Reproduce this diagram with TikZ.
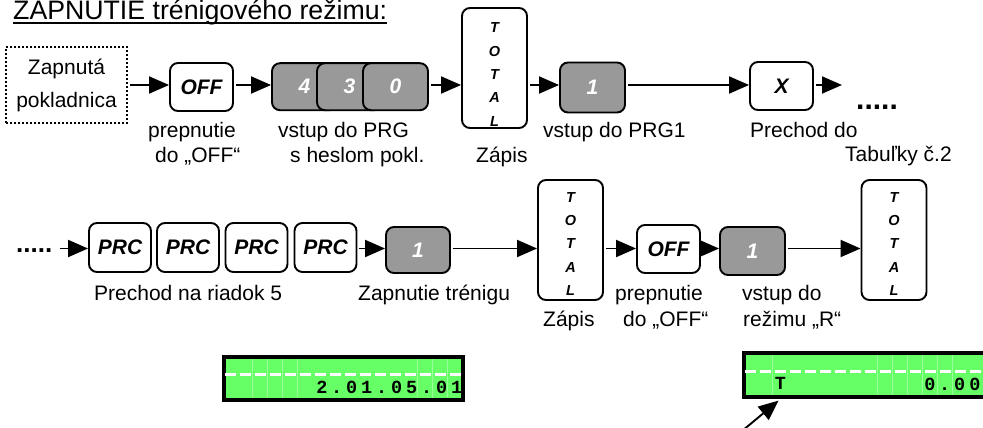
\documentclass[tikz,border=0pt]{standalone}
\usepackage{fontspec}
\setmainfont{Liberation Sans}
\newfontfamily\lcdfont{Liberation Mono}
\usetikzlibrary{arrows.meta}
\definecolor{keygray}{HTML}{999999}
\definecolor{lcdgreen}{HTML}{66FF66}
\makeatletter
\newcommand\lcdtext[1]{\@tfor\lcdch:=#1\do{\makebox[15pt]{\lcdch}}}
\makeatother
\begin{document}
\begin{tikzpicture}[x=1pt,y=-1pt,
  keybox/.style={draw, line width=1.9pt, rounded corners=8pt, fill=white, inner sep=0pt,
    font=\fontsize{21}{24}\selectfont\bfseries\itshape},
  graykey/.style={keybox, fill=keygray, text=white},
  totbox/.style={keybox, minimum width=65pt, minimum height=120pt},
  tottext/.style={inner sep=0pt, align=center, font=\fontsize{14.5}{23.4}\selectfont\bfseries\itshape},
  lab/.style={anchor=base west, inner sep=0pt, font=\fontsize{21}{25}\selectfont},
  conn/.style={line width=1.9pt, -{Triangle[length=20pt,width=17pt]}, shorten <=2pt},
  lcdbox/.style={draw, line width=4pt, fill=lcdgreen, inner sep=0pt},
  lcddash/.style={white, line width=3pt, dash pattern=on 11pt off 4pt},
  lcdgrid/.style={draw=white, opacity=0.35, line width=0.6pt},
  lcdchar/.style={anchor=base, inner sep=0pt, font=\lcdfont\fontsize{18.5}{20}\selectfont\bfseries},
  ellip/.style={inner sep=0pt, anchor=base west}
]
\useasboundingbox (0,0) rectangle (983,428);

% title
\node[anchor=base west, inner sep=0pt, font=\fontsize{26.7}{30}\selectfont] (title) at (13,20) {ZAPNUTIE trénigového režimu:};
\draw[line width=1.8pt] ([yshift=-3.3pt]title.base west) -- ([yshift=-3.3pt]title.base east);

% row helpers
\coordinate (r1) at (0,85);
\coordinate (r2) at (0,248.5);

% ---- row 1
\node[draw, line width=1.6pt, dash pattern=on 1.6pt off 2.4pt, minimum width=121pt, minimum height=76pt,
  inner sep=0pt, align=center, font=\fontsize{21}{33}\selectfont] (zap) at (66.5,85) {Zapnutá\\pokladnica};
\node[keybox, minimum width=63pt, minimum height=48pt] (off1) at (201.5,87) {OFF};
\node[graykey, minimum width=65pt, minimum height=47pt] (k4) at (304.5,86.7) {4};
\node[graykey, minimum width=65pt, minimum height=47pt] (k3) at (349.5,86.7) {3};
\node[graykey, minimum width=65pt, minimum height=47pt] (k0) at (395.5,86.7) {0};
\node[totbox] (tot1) at (494.5,68) {};
\node[tottext] (tot1t) at (494.5,74.5) {T\\O\\T\\A\\L};
\node[graykey, minimum width=65pt, minimum height=50pt] (one1) at (592.5,87.5) {1};
\node[keybox, minimum width=63pt, minimum height=48pt] (x1) at (781.5,86) {X};
\coordinate (e1) at (842,85);
\node[ellip, font=\fontsize{30}{32}\selectfont\bfseries] (dots1) at (856,110) {.....};

\draw[conn] (zap.east |- r1) -- (off1.west |- r1);
\draw[conn] (off1.east |- r1) -- (k4.west |- r1);
\draw[conn] (k0.east |- r1) -- (tot1.west |- r1);
\draw[conn] (tot1.east |- r1) -- (one1.west |- r1);
\draw[conn] (one1.east |- r1) -- (x1.west |- r1);
\draw[conn] (x1.east |- r1) -- (e1);

\node[lab] (l1a) at (148,137) {prepnutie};
\node[lab] (l1b) at (155,162) {do „OFF“};
\node[lab] (l2a) at (278,137) {vstup do PRG};
\node[lab] (l2b) at (290,162) {s heslom pokl.};
\node[lab] (l3) at (476,162) {Zápis};
\node[lab] (l4) at (543,137) {vstup do PRG1};
\node[lab] (l5a) at (750,137) {Prechod do};
\node[lab] (l5b) at (845,161) {Tabuľky č.2};

% ---- row 2
\node[ellip, font=\fontsize{26}{28}\selectfont\bfseries] (dots2) at (16,252) {.....};
\coordinate (s2) at (58,248.5);
\node[keybox, minimum width=62pt, minimum height=49pt] (prc1) at (120,247.5) {PRC};
\node[keybox, minimum width=62pt, minimum height=49pt] (prc2) at (188,247.5) {PRC};
\node[keybox, minimum width=62pt, minimum height=49pt] (prc3) at (256.5,247.5) {PRC};
\node[keybox, minimum width=62pt, minimum height=49pt] (prc4) at (325.5,247.5) {PRC};
\node[graykey, minimum width=64pt, minimum height=46pt] (one2) at (418,250) {1};
\node[totbox] (tot2) at (570.5,240) {};
\node[tottext] (tot2t) at (570.5,244) {T\\O\\T\\A\\L};
\node[keybox, minimum width=63pt, minimum height=48pt] (off2) at (668.5,249) {OFF};
\node[graykey, minimum width=65pt, minimum height=48pt] (one3) at (752.5,251) {1};
\node[totbox] (tot3) at (894,240) {};
\node[tottext] (tot3t) at (894,244) {T\\O\\T\\A\\L};

\draw[conn] (s2) -- (prc1.west |- r2);
\draw[conn] (prc4.east |- r2) -- (one2.west |- r2);
\draw[conn] (one2.east |- r2) -- (tot2.west |- r2);
\draw[conn] (tot2.east |- r2) -- (off2.west |- r2);
\draw[conn] (off2.east |- r2) -- (one3.west |- r2);
\draw[conn] (one3.east |- r2) -- (tot3.west |- r2);

\node[lab] (m1) at (94,300) {Prechod na riadok 5};
\node[lab] (m2) at (358,300) {Zapnutie trénigu};
\node[lab] (m3) at (543,326) {Zápis};
\node[lab] (m4a) at (615,300) {prepnutie};
\node[lab] (m4b) at (623,326) {do „OFF“};
\node[lab] (m5a) at (742,300) {vstup do};
\node[lab] (m5b) at (743,326) {režimu „R“};

% ---- LCD 1
\node[lcdbox, minimum width=239pt, minimum height=43pt] (lcd1) at (343.5,378.5) {};
\foreach \gx in {252.7,267.7,282.7,297.7,417.7,432.7,447.7}
  \draw[lcdgrid] (\gx,359) -- (\gx,398);
\draw[lcddash] (224.7,374) -- (462,374);
\node[lcdchar, anchor=base east] (lcd1txt) at (464.5,393) {\lcdtext{2.01.05.01}};

% ---- LCD 2
\node[lcdbox, minimum width=246pt, minimum height=44pt] (lcd2) at (867,375) {};
\foreach \gx in {772.5,877.5,892.5,907.5,922.5,937.5,952.5}
  \draw[lcdgrid] (\gx,355) -- (\gx,395);
\draw[lcddash] (744.5,371) -- (985,371);
\node[lcdchar] (lcdT) at (780.5,389) {T};
\node[lcdchar, anchor=base east] (lcd2txt) at (982.5,390) {\lcdtext{0.00}};

\coordinate (a0) at (742,431);
\draw[conn, shorten >=2.5pt] (a0) -- (lcdT.south |- lcd2.south);
\end{tikzpicture}
\end{document}
